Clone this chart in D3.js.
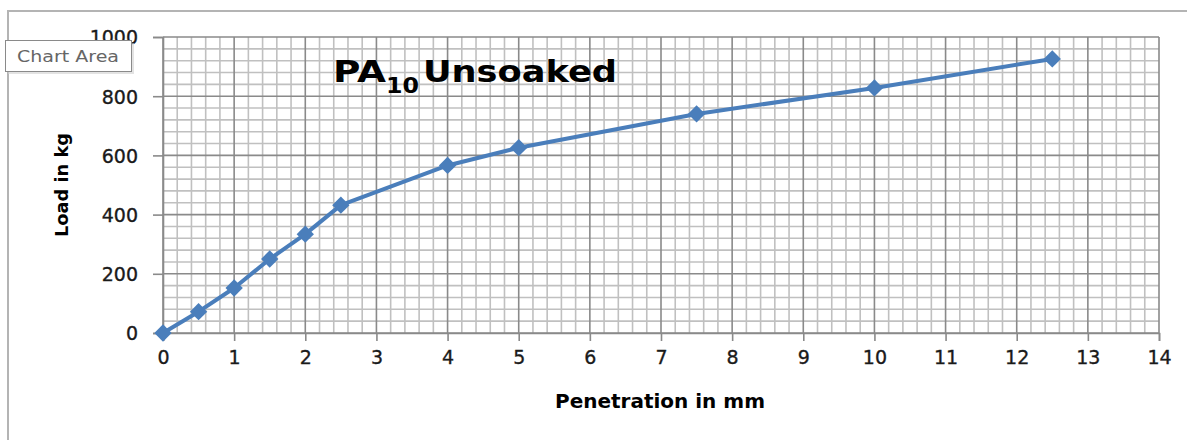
<!DOCTYPE html>
<html>
<head>
<meta charset="utf-8">
<script src="https://cdn.jsdelivr.net/npm/d3@7"></script>
<style>
  html, body { margin: 0; padding: 0; background: #fff; }
  svg { display: block; }
  text { font-family: "DejaVu Sans", "Liberation Sans", sans-serif; }
</style>
</head>
<body>
<svg id="chart" width="1187" height="440"></svg>
<script>
// CBR test: penetration (mm) vs load (kg)
const penetration = [0, 0.5, 1, 1.5, 2, 2.5, 4, 5, 7.5, 10, 12.5];
const load = [0, 72, 152, 250, 334, 432, 566, 626, 740, 828, 926];
const xTicks = [0, 1, 2, 3, 4, 5, 6, 7, 8, 9, 10, 11, 12, 13, 14];
const yTicks = [0, 200, 400, 600, 800, 1000];

const svg = d3.select("#chart");
const W = 1187, H = 440;
const plot = { left: 163, right: 1159, top: 37, bottom: 333 };

const x = d3.scaleLinear().domain([0, 14]).range([plot.left, plot.right]);
const y = d3.scaleLinear().domain([0, 1000]).range([plot.bottom, plot.top]);

// outer chart frame
svg.append("rect")
  .attr("x", 8).attr("y", 11)
  .attr("width", W + 10).attr("height", H + 10)
  .attr("fill", "#fff").attr("stroke", "#b4b4b4").attr("stroke-width", 2);

// minor gridlines
const g = svg.append("g");
const minorX = d3.range(0, 14.0001, 0.2).filter(v => Math.abs(v - Math.round(v)) > 1e-6);
const minorY = d3.range(0, 1000.001, 40).filter(v => v % 200 !== 0);
g.selectAll("line.mx").data(minorX).join("line")
  .attr("x1", d => x(d)).attr("x2", d => x(d))
  .attr("y1", plot.top).attr("y2", plot.bottom)
  .attr("stroke", "#c0c0c0").attr("stroke-width", 1.6);
g.selectAll("line.my").data(minorY).join("line")
  .attr("x1", plot.left).attr("x2", plot.right)
  .attr("y1", d => y(d)).attr("y2", d => y(d))
  .attr("stroke", "#c0c0c0").attr("stroke-width", 1.6);

// major gridlines
g.selectAll("line.Mx").data(xTicks).join("line")
  .attr("x1", d => x(d)).attr("x2", d => x(d))
  .attr("y1", plot.top).attr("y2", plot.bottom)
  .attr("stroke", "#8a8a8a").attr("stroke-width", 1.6);
g.selectAll("line.My").data(yTicks).join("line")
  .attr("x1", plot.left).attr("x2", plot.right)
  .attr("y1", d => y(d)).attr("y2", d => y(d))
  .attr("stroke", "#8a8a8a").attr("stroke-width", 1.6);

// axes
const xAxis = svg.append("g")
  .attr("transform", `translate(0,${plot.bottom})`)
  .call(d3.axisBottom(x).tickValues(xTicks).tickSize(8).tickPadding(10).tickFormat(d3.format("d")));
const yAxis = svg.append("g")
  .attr("transform", `translate(${plot.left},0)`)
  .call(d3.axisLeft(y).tickValues(yTicks).tickSize(10).tickPadding(15).tickFormat(d3.format("d")));
[xAxis, yAxis].forEach(a => {
  a.select(".domain").attr("stroke", "#8a8a8a").attr("stroke-width", 1.6);
  a.selectAll(".tick line").attr("stroke", "#8a8a8a").attr("stroke-width", 1.6);
  a.selectAll(".tick text")
    .attr("fill", "#1a1a1a")
    .attr("stroke", "#1a1a1a").attr("stroke-width", 0.35)
    .style("font-size", "19px")
    .style("font-family", "'DejaVu Sans', sans-serif");
});
yAxis.selectAll(".tick text").attr("dy", "0.36em");

// data series
const line = d3.line().x((d, i) => x(penetration[i])).y(d => y(d));
svg.append("path")
  .datum(load)
  .attr("d", line)
  .attr("fill", "none")
  .attr("stroke", "#4a7ebb")
  .attr("stroke-width", 4)
  .attr("stroke-linejoin", "round");

const diamond = d3.symbol().type(d3.symbolSquare).size(150);
svg.selectAll("path.pt").data(load).join("path")
  .attr("class", "pt")
  .attr("d", diamond)
  .attr("transform", (d, i) => `translate(${x(penetration[i])},${y(d)}) rotate(45)`)
  .attr("fill", "#4a7ebb");

// chart title with subscript
const title = svg.append("g").attr("font-weight", "bold").attr("fill", "#000");
title.append("text").attr("x", 333).attr("y", 82)
  .attr("textLength", 53).attr("lengthAdjust", "spacingAndGlyphs")
  .style("font-size", "31px").text("PA");
title.append("text").attr("x", 386).attr("y", 93)
  .attr("textLength", 33).attr("lengthAdjust", "spacingAndGlyphs")
  .style("font-size", "21px").text("10");
title.append("text").attr("x", 423).attr("y", 82)
  .attr("textLength", 194).attr("lengthAdjust", "spacingAndGlyphs")
  .style("font-size", "31px").text("Unsoaked");

// axis titles
svg.append("text")
  .attr("transform", `translate(68,${(plot.top + plot.bottom) / 2}) rotate(-90)`)
  .attr("text-anchor", "middle")
  .attr("font-weight", "bold")
  .attr("textLength", 104).attr("lengthAdjust", "spacingAndGlyphs")
  .style("font-size", "18px")
  .text("Load in kg");
svg.append("text")
  .attr("x", 660).attr("y", 408)
  .attr("text-anchor", "middle")
  .attr("font-weight", "bold")
  .attr("textLength", 210).attr("lengthAdjust", "spacingAndGlyphs")
  .style("font-size", "19px")
  .text("Penetration in mm");

// "Chart Area" hover label
const tip = svg.append("g");
tip.append("rect").attr("x", 8).attr("y", 43).attr("width", 126).attr("height", 31)
  .attr("fill", "#d0d0d0").attr("opacity", 0.6);
tip.append("rect").attr("x", 5.5).attr("y", 40.5).attr("width", 126).attr("height", 31)
  .attr("fill", "#fff").attr("stroke", "#8a8a8a").attr("stroke-width", 1);
tip.append("text").attr("x", 17).attr("y", 62)
  .attr("fill", "#666")
  .attr("textLength", 102).attr("lengthAdjust", "spacingAndGlyphs")
  .style("font-size", "16px")
  .text("Chart Area");
</script>
</body>
</html>
